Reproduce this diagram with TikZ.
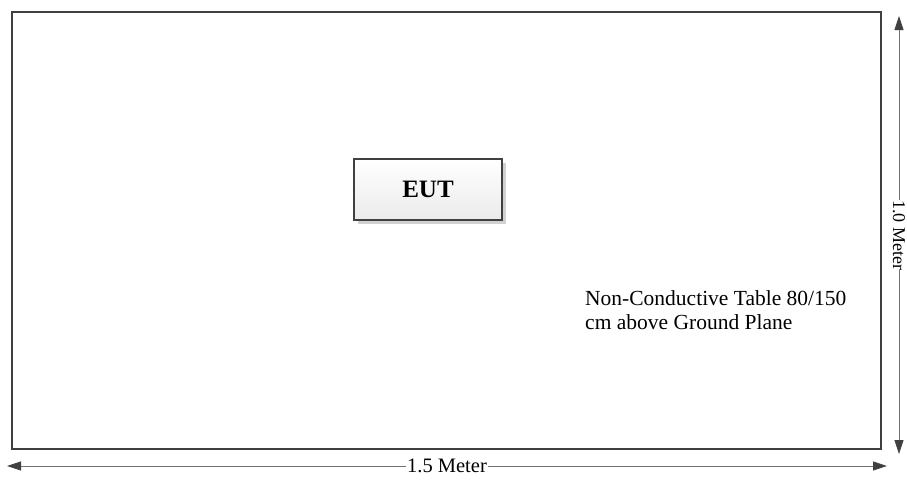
\documentclass[tikz,border=0pt]{standalone}
\usepackage{fontspec}
\setmainfont{Liberation Serif}
\usetikzlibrary{arrows.meta, positioning, shadows}
\definecolor{framegray}{RGB}{64,64,64}
\tikzstyle{tableframe} = [rectangle, draw=framegray, line width=2.6pt, minimum width=869pt, minimum height=437pt, inner sep=0pt]
\tikzstyle{eutbox} = [rectangle, draw=framegray, line width=1.2pt, minimum width=148pt, minimum height=61pt, top color=white, bottom color=black!8, drop shadow={shadow xshift=4pt, shadow yshift=-4pt, fill=black!18, opacity=1}, font=\fontsize{25}{28}\selectfont\bfseries]
\tikzstyle{note} = [align=left, inner sep=0pt, font=\fontsize{21.5}{24}\selectfont]
\tikzstyle{dimlabel} = [fill=white, inner sep=1pt, font=\fontsize{20.5}{22}\selectfont]
\tikzstyle{dimarrow} = [draw=black!55, line width=0.8pt, {Triangle[length=14pt, width=9pt, fill=framegray, color=framegray]}-{Triangle[length=14pt, width=9pt, fill=framegray, color=framegray]}]

\begin{document}
\begin{tikzpicture}[x=1pt, y=-1pt]
\useasboundingbox (0,0) rectangle (907,482);

\node (table) [tableframe] at (446.5,230.5) {};
\node (eut) [eutbox] at (428,189.5) {EUT};
\node (note) [note, anchor=north west] at (585,290) {Non-Conductive Table 80/150\\cm above Ground Plane};

\coordinate (wleft) at (7,466);
\coordinate (wright) at (887,466);
\coordinate (htop) at (899,16);
\coordinate (hbottom) at (899,454);

\draw [dimarrow] (wleft) -- node[dimlabel] {1.5 Meter} (wright);
\draw [dimarrow] (htop) -- node[dimlabel, rotate=-90, font=\fontsize{18}{20}\selectfont, inner sep=0.5pt] {1.0 Meter} (hbottom);

\end{tikzpicture}
\end{document}
